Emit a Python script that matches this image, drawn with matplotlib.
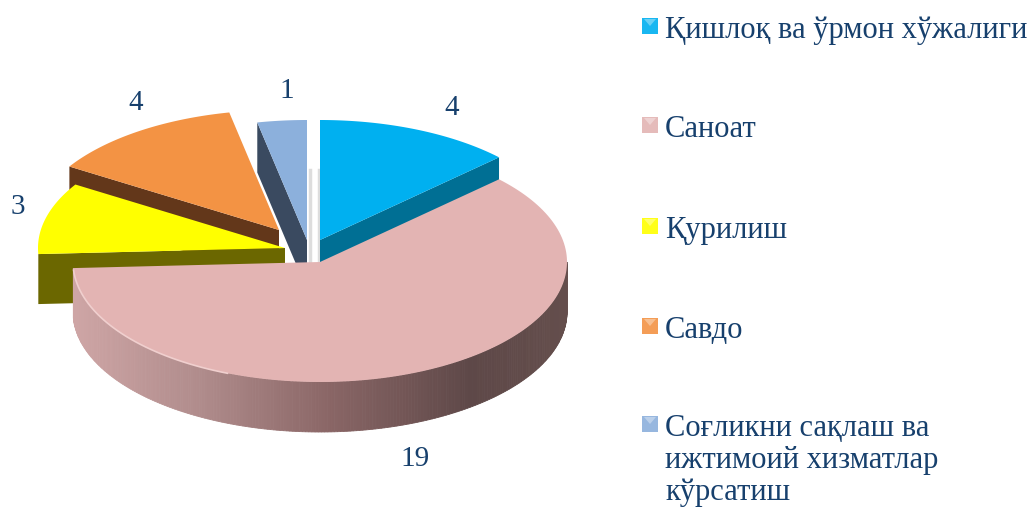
import numpy as np
import matplotlib
matplotlib.use("Agg")
import matplotlib.pyplot as plt
from matplotlib.patches import Rectangle, Polygon

categories = ["Қишлоқ ва ўрмон хўжалиги", "Саноат", "Қурилиш", "Савдо",
              "Соғликни сақлаш ва\nижтимоий хизматлар\nкўрсатиш"]
values = [4, 19, 3, 4, 1]

top_colors = ["#00B0F0", "#E3B4B3", "#FFFF00", "#F39344", "#8CB0DC"]
side_colors = ["#006F94", "#8A6666", "#6B6700", "#63371A", "#3A4A60"]
centers = [(320, 240), (320, 262), (285, 248), (279, 230), (307, 240)]
cut_at_end = [True, False, False, False, False]
label_pos = [(452, 108), (415, 459), (18, 207), (136, 103), (287, 91)]
legend_y = [26, 125, 226, 326, 424]
text_color = "#17406D"
RX, RY, DEPTH = 247, 120, 50

plt.rcParams['font.family'] = ['Liberation Serif', 'DejaVu Serif']
fig = plt.figure(figsize=(10.31, 5.07), dpi=100)
ax = fig.add_axes([0, 0, 1, 1])
ax.set_xlim(0, 1031)
ax.set_ylim(507, 0)
ax.axis("off")

fractions = np.array(values) / sum(values) * 360
starts = 90 - np.concatenate([[0], np.cumsum(fractions)[:-1]])
ends = starts - fractions


def rim(i, a):
    cx, cy = centers[i]
    t = np.radians(a)
    return cx + RX * np.cos(t), cy - RY * np.sin(t)


def top_poly(i):
    t = np.linspace(starts[i], ends[i], 160)
    xs, ys = rim(i, t)
    return np.r_[centers[i][0], xs], np.r_[centers[i][1], ys]


def draw_slice(i):
    cut = ends[i] if cut_at_end[i] else starts[i]
    rx, ry = rim(i, cut)
    cx, cy = centers[i]
    ax.add_patch(Polygon([(cx, cy), (rx, ry), (rx, ry + DEPTH), (cx, cy + DEPTH)],
                         closed=True, fc=side_colors[i], ec="none", zorder=2))
    xs, ys = top_poly(i)
    ax.fill(xs, ys, color=top_colors[i], lw=0, zorder=2)


# faint shadow strip in the gap between the exploded slices
for gx in (309.5, 318.5):
    ax.plot([gx, gx], [170, 263], color="#DDDDDD", lw=2.5, zorder=1)

for i in (4, 3, 2, 0):
    draw_slice(i)

# main slice: graded rim
i = 1
stops_x = [72, 200, 330, 470, 567]
stops_rgb = np.array([[0xCF, 0xA6, 0xA6], [0xB0, 0x8C, 0x8C], [0x8A, 0x66, 0x66],
                      [0x5E, 0x48, 0x48], [0x64, 0x4E, 0x4C]]) / 255
angles = np.linspace(ends[i], 0, 240)
for a0, a1 in zip(angles[:-1], angles[1:]):
    x0, y0 = rim(i, a0)
    x1, y1 = rim(i, a1)
    col = tuple(np.interp((x0 + x1) / 2, stops_x, stops_rgb[:, k]) for k in range(3))
    ax.fill([x0, x1, x1, x0], [y0, y1, y1 + DEPTH, y0 + DEPTH], color=col,
            lw=0.6, zorder=3)
xs, ys = top_poly(i)
ax.fill(xs, ys, color=top_colors[i], lw=0, zorder=4)
hx, hy = rim(i, np.linspace(ends[i] + 1, -112, 40))
ax.plot(hx, hy, color="#F0CFCE", lw=1.2, zorder=5)

for v, (x, y) in zip(values, label_pos):
    ax.text(x, y, str(v), color=text_color, fontsize=21, ha="center", va="center",
            zorder=6)

for name, c, y in zip(categories, top_colors, legend_y):
    ax.add_patch(Rectangle((642, y - 8), 16, 16, fc=c, ec="none", alpha=0.9, zorder=6))
    ax.add_patch(Polygon([(644, y - 7), (656, y - 7), (650, y)], closed=True,
                         fc="white", ec="none", alpha=0.35, zorder=7))
    ax.text(665, y - 10, name, color=text_color, fontsize=22, ha="left", va="top",
            linespacing=1.13, zorder=6)

fig.savefig("out.png", dpi=100, facecolor="white")
